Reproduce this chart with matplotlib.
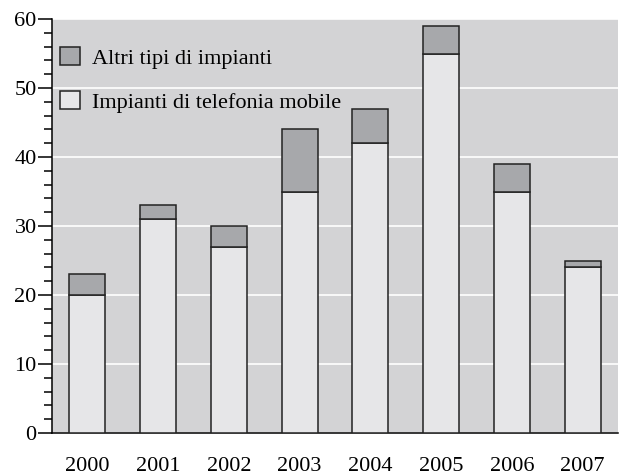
import matplotlib.pyplot as plt
import numpy as np
from matplotlib.ticker import MultipleLocator

anni = ['2000', '2001', '2002', '2003', '2004', '2005', '2006', '2007']
telefonia_mobile = [20, 31, 27, 35, 42, 55, 35, 24]
totale = [23, 33, 30, 44, 47, 59, 39, 25]
altri_tipi = [t - m for t, m in zip(totale, telefonia_mobile)]

plt.rcParams['font.family'] = ['Liberation Serif', 'DejaVu Serif']

fig = plt.figure(figsize=(6.2, 4.76), dpi=100)
ax = fig.add_axes([52 / 620, 1 - 433 / 476, 566 / 620, 414 / 476])

x = np.arange(len(anni))
w = 0.51
ax.set_facecolor('#d3d3d5')
ax.bar(x, telefonia_mobile, w, color='#e6e6e8', edgecolor='#222222', linewidth=1.1,
       label='Impianti di telefonia mobile', zorder=3)
ax.bar(x, altri_tipi, w, bottom=telefonia_mobile, color='#a7a8ab', edgecolor='#222222',
       linewidth=1.1, label='Altri tipi di impianti', zorder=3)

ax.set_xlim(-0.5, 7.5)
ax.set_ylim(0, 60)
ax.yaxis.set_major_locator(MultipleLocator(10))
ax.yaxis.set_minor_locator(MultipleLocator(2))
ax.grid(axis='y', color='white', linewidth=1.2, zorder=0)
ax.set_axisbelow(True)

for s in ['top', 'right']:
    ax.spines[s].set_visible(False)
ax.spines['left'].set_linewidth(1.1)
ax.spines['bottom'].set_linewidth(1.1)

ax.set_xticks(x)
ax.set_xticklabels(anni)
ax.tick_params(axis='x', length=0, pad=17.5, labelsize=16)
ax.tick_params(axis='y', which='major', length=10, width=1.1, labelsize=16, pad=1)
ax.tick_params(axis='y', which='minor', length=6, width=1.1)

h, l = ax.get_legend_handles_labels()
ax.legend(h[::-1], l[::-1], loc='upper left', frameon=False, fontsize=16,
          handlelength=0.9, handleheight=0.9, handletextpad=0.55, labelspacing=1.0,
          borderaxespad=0, borderpad=0.35, bbox_to_anchor=(0.0, 0.952))

fig.savefig('out.png', dpi=100)
